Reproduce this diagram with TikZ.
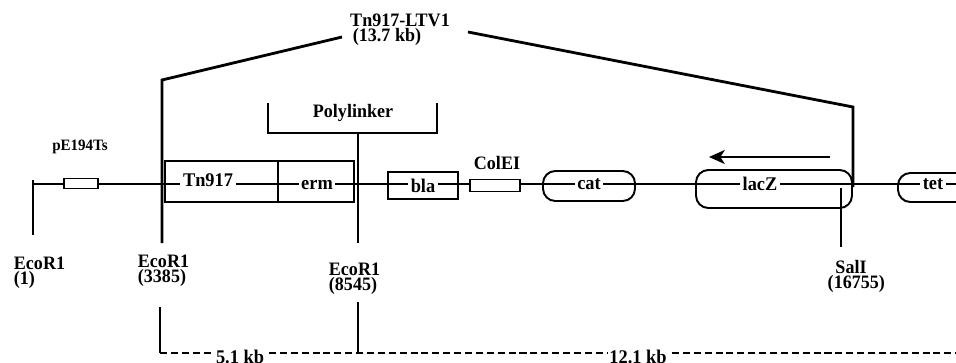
\documentclass[tikz,border=0pt]{standalone}
\usepackage{fontspec}
\setmainfont{Liberation Serif}
\newfontfamily\mapfont[FakeStretch=0.95]{Liberation Serif}
\usetikzlibrary{arrows.meta,positioning}

\begin{document}
\begin{tikzpicture}[
    x=0.02cm, y=-0.02cm,
    line width=1.1pt,
    gene/.style={
        rectangle,
        draw=black,
        line width=1.1pt,
        inner sep=0pt
    },
    rgene/.style={
        gene,
        rounded corners=7pt
    },
    site/.style={
        rectangle,
        draw=black,
        fill=white,
        line width=1.1pt,
        inner sep=0pt
    },
    gtxt/.style={
        fill=white,
        inner sep=1.5pt,
        font=\mapfont\bfseries\fontsize{11}{9}\selectfont
    },
    lbl/.style={
        inner sep=0pt,
        font=\mapfont\bfseries\fontsize{10.8}{8.8}\selectfont
    },
    heavy/.style={line width=1.6pt},
    arrow/.style={-{Stealth[length=9pt,width=8pt,inset=2.5pt]}, line width=1.1pt}
]
\useasboundingbox (0,0) rectangle (956,362);

% Title
\node[lbl] (ttl) at (400,20) {Tn917-LTV1};
\node[lbl] (ttlkb) at (387,37) {(13.7 kb)};
\coordinate (tnTopL) at (342,37);
\coordinate (tnTopR) at (468,32);
\coordinate (tnL) at (162,80);
\coordinate (tnLb) at (162,243);
\coordinate (tnR) at (853,107);
\coordinate (tnRb) at (853,187);

% Main line
\coordinate (lend) at (33,184);
\coordinate (rend) at (956,184);
\draw (lend) -- (rend);
\coordinate (e1t) at (33,180);
\coordinate (e1b) at (33,235);
\draw[heavy] (e1t) -- (e1b);

% pE194Ts
\node[font=\mapfont\bfseries\fontsize{9}{9}\selectfont] (pelbl) at (80,147) {pE194Ts};
\node[site, minimum width=0.68cm, minimum height=0.2cm] (pe) at (81,183.5) {};

% Tn917 and erm
\node[gene, minimum width=2.26cm, minimum height=0.82cm] (tn) at (221.5,181.5) {};
\node[gene, minimum width=1.52cm, minimum height=0.82cm] (erm) at (316,181.5) {};
\node[gtxt] at (208,180) {Tn917};
\node[gtxt] at (317,185) {erm};

% bla, ColEI
\node[gene, minimum width=1.4cm, minimum height=0.54cm] (bla) at (423,185.5) {};
\node[gtxt] at (bla) {bla};
\node[site, minimum width=1.0cm, minimum height=0.24cm] (colei) at (495,185.5) {};
\node[lbl] (coleilbl) at (497,163) {ColEI};

% cat, lacZ, tet
\node[rgene, minimum width=1.84cm, minimum height=0.6cm] (cat) at (589,186) {};
\node[gtxt] at (589,184) {cat};
\node[rgene, minimum width=3.12cm, minimum height=0.76cm] (lacz) at (774,189) {};
\node[gtxt] at (760,184) {lacZ};
\node[rgene, minimum width=1.6cm, minimum height=0.58cm] (tet) at (938,187.5) {};
\node[gtxt] at (933,184) {tet};

% Direction of lacZ
\coordinate (arrS) at (830,157);
\coordinate (arrE) at (709,157);
\draw[arrow] (arrS) -- (arrE);

% Tn917-LTV1 insert
\draw[heavy] (tnLb) -- (tnL) -- (tnTopL);
\draw[heavy] (tnTopR) -- (tnR) -- (tnRb);

% Polylinker
\node[lbl] (poly) at (353,113) {Polylinker};
\coordinate (plA) at (268,103);
\coordinate (plB) at (268,133);
\coordinate (plC) at (437,133);
\coordinate (plD) at (437,103);
\coordinate (plS) at (358,133);
\coordinate (plSb) at (358,243);
\draw[heavy] (plA) -- (plB) -- (plC) -- (plD);
\draw[heavy] (plS) -- (plSb);

% SalI site
\coordinate (salt) at (841,188);
\coordinate (salb) at (841,247);
\draw[heavy] (salt) -- (salb);

% Site labels
\node[lbl, anchor=north west, align=left] (eco1) at (13,256) {EcoR1\\(1)};
\node[lbl, anchor=north west, align=left] (eco2) at (137,254) {EcoR1\\(3385)};
\node[lbl, anchor=north west, align=left] (eco3) at (328,262) {EcoR1\\(8545)};
\node[lbl, anchor=north, align=center] (sal) at (851,259) {SalI\\\hspace*{6pt}(16755)};

% Fragment sizes
\coordinate (fA) at (160,307);
\coordinate (fB) at (160,353);
\coordinate (fC) at (358,302);
\coordinate (fD) at (358,353);
\coordinate (fE) at (956,353);
\draw[heavy] (fA) -- (fB);
\draw[heavy] (fC) -- (fD);
\draw[line width=1.3pt, dash pattern=on 4pt off 2.2pt] (fB) -- (fE);
\node[gtxt, inner sep=1pt] (kb5) at (240,357) {5.1 kb};
\node[gtxt, inner sep=1pt] (kb12) at (638,357) {12.1 kb};

\end{tikzpicture}
\end{document}
